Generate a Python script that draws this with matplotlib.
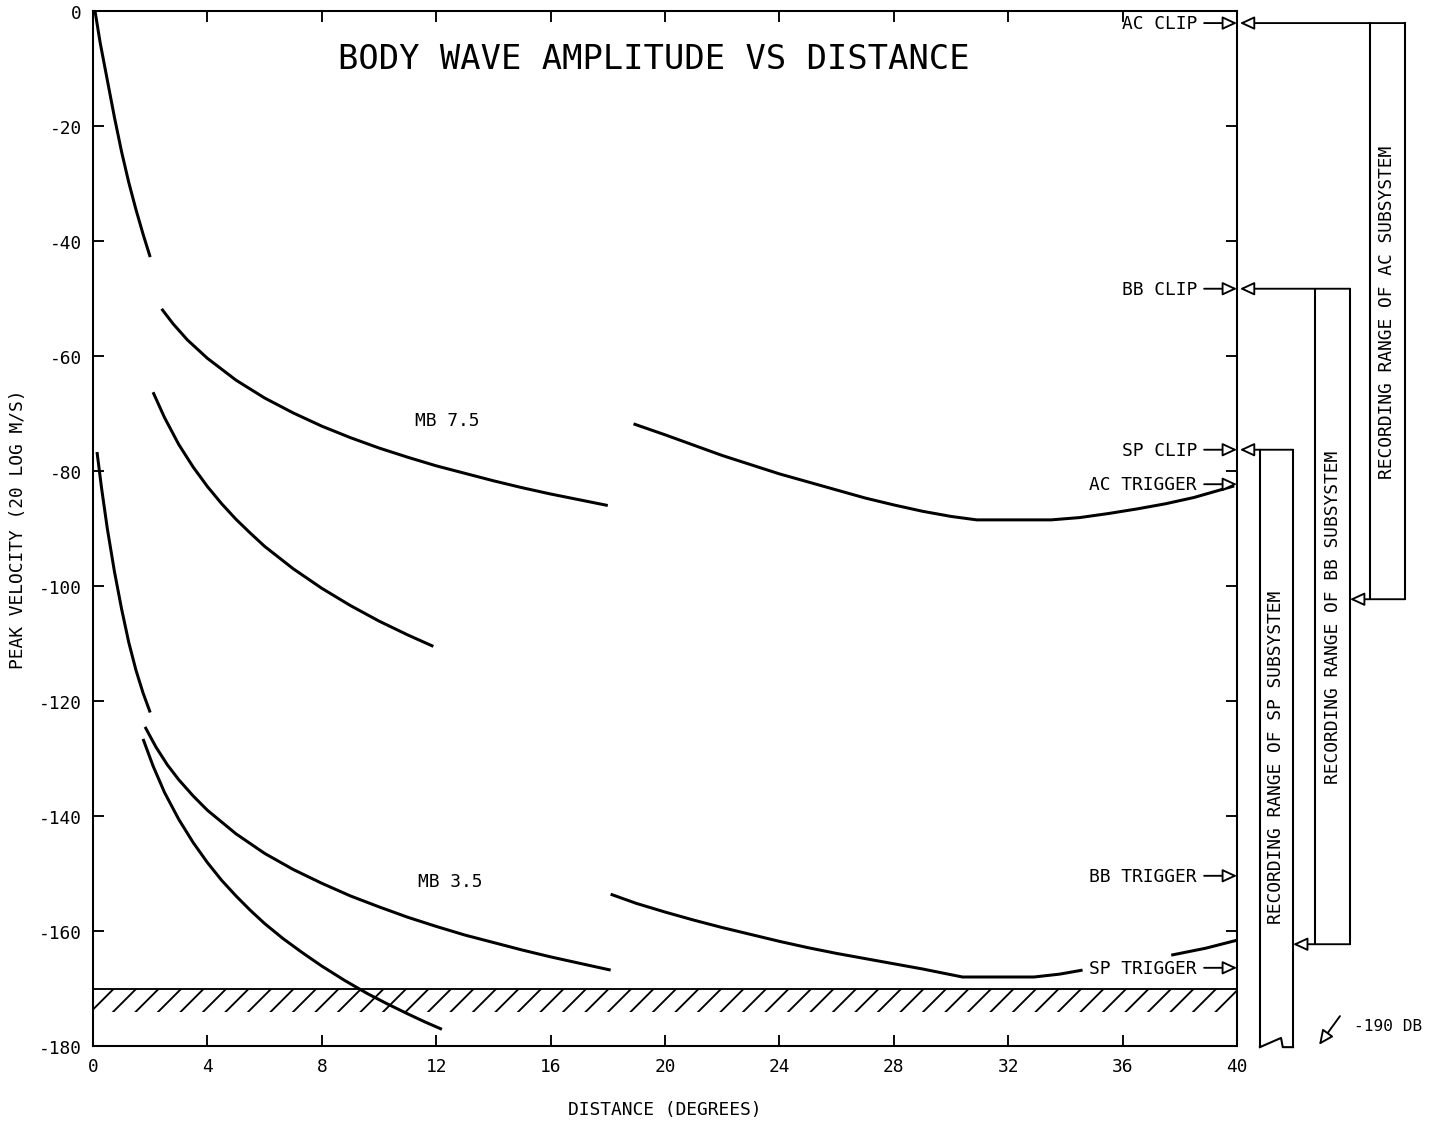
import matplotlib.pyplot as plt
import numpy as np

# curve readings (distance in degrees, peak velocity in dB)
mb75_a_x = [0.07, 0.25, 0.5, 0.75, 1.0, 1.25, 1.5, 1.75, 2.0]
mb75_a_y = [0.0, -5.5, -12.0, -18.5, -24.5, -29.8, -34.5, -38.8, -42.8]
mb75_b_x = [2.4, 2.8, 3.3, 4, 5, 6, 7, 8, 9, 10, 11, 12, 13, 14, 15, 16, 17, 18]
mb75_b_y = [-51.8, -54.4, -57.2, -60.4, -64.2, -67.3, -69.9, -72.2, -74.2, -76.0,
            -77.6, -79.1, -80.4, -81.7, -82.9, -84.0, -85.0, -86.0]
mb75_c_x = [2.1, 2.5, 3, 3.5, 4, 4.5, 5, 5.5, 6, 7, 8, 9, 10, 11, 11.9]
mb75_c_y = [-66.3, -70.7, -75.4, -79.3, -82.7, -85.7, -88.4, -90.8, -93.1, -97.0,
            -100.4, -103.4, -106.1, -108.5, -110.5]
mb75_d_x = [18.9, 20, 22, 24, 26, 27, 28, 29, 30, 30.9, 33.5, 34.5, 35.5, 36.5,
            37.5, 38.5, 39.9]
mb75_d_y = [-71.8, -73.7, -77.3, -80.5, -83.3, -84.7, -85.9, -87.0, -87.9, -88.5,
            -88.5, -88.1, -87.4, -86.6, -85.7, -84.6, -82.6]

mb35_a_x = [0.14, 0.3, 0.5, 0.75, 1.0, 1.25, 1.5, 1.75, 2.0]
mb35_a_y = [-76.7, -83.0, -90.0, -97.5, -104.0, -109.8, -114.6, -118.6, -122.0]
mb35_b_x = [1.82, 2.2, 2.6, 3, 3.5, 4, 5, 6, 7, 8, 9, 10, 11, 12, 13, 14, 15, 16, 17, 18.1]
mb35_b_y = [-124.5, -128.0, -131.1, -133.7, -136.5, -139.0, -143.1, -146.5, -149.3,
            -151.7, -153.9, -155.8, -157.6, -159.2, -160.7, -162.0, -163.3, -164.5,
            -165.6, -166.8]
mb35_c_x = [1.75, 2.1, 2.5, 3, 3.5, 4, 4.5, 5, 5.5, 6, 6.64, 7.3, 8, 8.8, 9.6, 10.3,
            11, 11.6, 12.2]
mb35_c_y = [-126.6, -131.3, -135.9, -140.6, -144.6, -148.1, -151.2, -153.9, -156.4,
            -158.7, -161.3, -163.7, -166.1, -168.6, -170.9, -172.7, -174.4, -175.8, -177.1]
mb35_d_x = [18.1, 19, 20, 21, 22, 23, 24, 25, 26, 27, 28, 29, 30, 30.4, 32.9, 33.8, 34.6]
mb35_d_y = [-153.6, -155.2, -156.7, -158.1, -159.4, -160.6, -161.8, -162.9, -163.9,
            -164.8, -165.7, -166.6, -167.6, -168.0, -168.0, -167.5, -166.8]
mb35_e_x = [37.7, 38.9, 40.0]
mb35_e_y = [-164.2, -163.0, -161.6]

# system levels
level_names = ['AC CLIP', 'BB CLIP', 'SP CLIP', 'AC TRIGGER', 'BB TRIGGER', 'SP TRIGGER']
level_db = [-2.1, -48.3, -76.3, -82.3, -150.4, -166.4]
noise_floor = -170
noise_bottom = -174

x_ticks = list(range(0, 41, 4))
y_ticks = list(range(0, -181, -20))

plt.rcParams['font.family'] = ['DejaVu Sans Mono']
plt.rcParams['hatch.linewidth'] = 1.0
plt.rcParams['axes.unicode_minus'] = False

DPI = 135
fig = plt.figure(figsize=(1430 / DPI, 1135 / DPI), dpi=DPI)
ax = fig.add_axes([93 / 1430, 1 - 1047 / 1135, 1144 / 1430, 1035 / 1135])

kw = dict(color='black', lw=1.6, solid_capstyle='butt')
for xs, ys in [(mb75_a_x, mb75_a_y), (mb75_b_x, mb75_b_y), (mb75_c_x, mb75_c_y),
               (mb75_d_x, mb75_d_y), (mb35_a_x, mb35_a_y), (mb35_b_x, mb35_b_y),
               (mb35_c_x, mb35_c_y), (mb35_d_x, mb35_d_y), (mb35_e_x, mb35_e_y)]:
    ax.plot(xs, ys, **kw)

# hatched noise band
ax.fill_between([0, 40], noise_bottom, noise_floor, facecolor='none',
                edgecolor='black', linewidth=0, hatch='//')
ax.axhline(noise_floor, color='black', lw=1)

ax.set_xlim(0, 40)
ax.set_ylim(-180, 0)
ax.set_xticks(x_ticks)
ax.set_yticks(y_ticks)
ax.tick_params(direction='in', length=6, width=1, top=True, right=True,
               labelsize=9.5, pad=6)
for s in ax.spines.values():
    s.set_linewidth(1.1)

ax.set_xlabel('DISTANCE (DEGREES)', fontsize=9.5)
ax.xaxis.set_label_coords(0.5, -0.052)
ax.set_ylabel('PEAK VELOCITY (20 LOG M/S)', fontsize=9.5)
ax.yaxis.set_label_coords(-0.058, 0.5)

ax.text(19.6, -8.3, 'BODY WAVE AMPLITUDE VS DISTANCE', ha='center', va='center', fontsize=18)
ax.text(12.4, -71.1, 'MB 7.5', ha='center', va='center', fontsize=9.5)
ax.text(12.5, -151.3, 'MB 3.5', ha='center', va='center', fontsize=9.5)

# level labels with arrows pointing at the right axis
arr = dict(arrowstyle='-|>,head_length=0.65,head_width=0.3', fc='white', ec='black',
           lw=1, shrinkA=0, shrinkB=0)
for name, lv in zip(level_names, level_db):
    ax.text(38.6, lv, name, ha='right', va='center', fontsize=9.5)
    ax.annotate('', xy=(40, lv), xytext=(38.85, lv), arrowprops=arr, annotation_clip=False)

# recording range boxes: (top, bottom, left, right, bottom arrow tip, text)
boxes = [
    (level_db[0], -102.3, 44.65, 45.87, 43.95, 'RECORDING RANGE OF AC SUBSYSTEM'),
    (level_db[1], -162.3, 42.73, 43.95, 41.96, 'RECORDING RANGE OF BB SUBSYSTEM'),
]
lk = dict(color='black', lw=1.1, clip_on=False)
for top, bot, left, right, tip, label in boxes:
    ax.annotate('', xy=(40.1, top), xytext=(right, top), arrowprops=arr, annotation_clip=False)
    ax.plot([left, left], [top, bot], **lk)
    ax.plot([right, right], [top, bot], **lk)
    ax.annotate('', xy=(tip, bot), xytext=(right, bot), arrowprops=arr, annotation_clip=False)
    ax.text((left + right) / 2, (top + bot) / 2, label, rotation=90, ha='center',
            va='center', fontsize=9.5, clip_on=False)

# SP box, open at the bottom with a break mark
sp_top, sp_left, sp_right = level_db[2], 40.8, 41.96
ax.annotate('', xy=(40.1, sp_top), xytext=(sp_right, sp_top), arrowprops=arr, annotation_clip=False)
ax.plot([sp_left, sp_left], [sp_top, -180.2], **lk)
ax.plot([sp_right, sp_right], [sp_top, -180.2], **lk)
ax.plot([sp_left, 41.54, 41.6, sp_right], [-180.2, -178.6, -180.2, -180.2], **lk)
ax.text((sp_left + sp_right) / 2, -129.6, 'RECORDING RANGE OF SP SUBSYSTEM', rotation=90,
        ha='center', va='center', fontsize=9.5, clip_on=False)

ax.annotate('', xy=(42.87, -179.8), xytext=(43.6, -174.8), arrowprops=arr, annotation_clip=False)
ax.text(44.1, -176.5, '-190 DB', ha='left', va='center', fontsize=8.6, clip_on=False)

fig.savefig('out.png', dpi=DPI)
